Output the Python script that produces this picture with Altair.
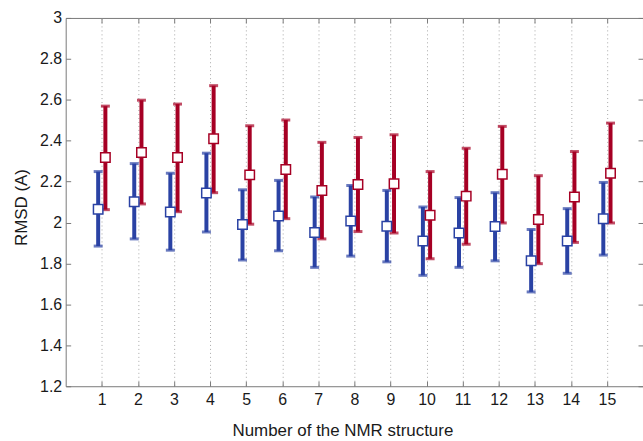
import altair as alt
import pandas as pd

# RMSD per NMR structure: mean with lower / upper error limits for two sets
structures = list(range(1, 16))

blue_mean = [2.065, 2.102, 2.052, 2.144, 1.990, 2.032, 1.951, 2.008, 1.982, 1.910, 1.949, 1.981, 1.813, 1.910, 2.019]
blue_lo = [1.885, 1.920, 1.865, 1.954, 1.817, 1.862, 1.781, 1.836, 1.808, 1.742, 1.781, 1.813, 1.661, 1.752, 1.841]
blue_hi = [2.249, 2.288, 2.241, 2.339, 2.160, 2.206, 2.125, 2.181, 2.157, 2.076, 2.122, 2.146, 1.966, 2.068, 2.196]

red_mean = [2.318, 2.342, 2.318, 2.410, 2.233, 2.259, 2.157, 2.186, 2.190, 2.036, 2.129, 2.236, 2.015, 2.125, 2.241]
red_lo = [2.063, 2.091, 2.053, 2.146, 1.992, 2.019, 1.920, 1.956, 1.949, 1.823, 1.894, 1.998, 1.799, 1.903, 1.998]
red_hi = [2.569, 2.598, 2.579, 2.669, 2.473, 2.501, 2.392, 2.416, 2.429, 2.249, 2.363, 2.470, 2.229, 2.347, 2.486]

y_ticks = [1.2, 1.4, 1.6, 1.8, 2.0, 2.2, 2.4, 2.6, 2.8, 3.0]

series_names = ["A", "B"]
series_colors = ["#2a42a4", "#a60024"]
dodge = {"A": -0.1, "B": 0.1}

rows = []
for name, means, los, his in [("A", blue_mean, blue_lo, blue_hi), ("B", red_mean, red_lo, red_hi)]:
    for s, m, lo, hi in zip(structures, means, los, his):
        rows.append({"structure": s, "series": name, "mean": m, "lo": lo, "hi": hi,
                     "xpos": s + dodge[name]})
df = pd.DataFrame(rows)

W, H = 580, 370
FONT = "Liberation Sans"

x_scale = alt.Scale(domain=[0, 16], nice=False, zero=False)
y_scale = alt.Scale(domain=[1.2, 3.0], nice=False, zero=False)
color = alt.Color("series:N", scale=alt.Scale(domain=series_names, range=series_colors), legend=None)

axis_common = dict(domain=False, offset=-5, tickSize=5, tickColor="#7a7a7a", tickWidth=1,
                   labelFont=FONT, labelFontSize=16, labelColor="#1a1a1a",
                   titleFont=FONT, titleFontSize=17, titleColor="#1a1a1a", titleFontWeight="normal")

x_bottom = alt.Axis(values=structures, orient="bottom", grid=True, gridDash=[1, 3], gridColor="#a8a8a8",
                    gridWidth=1, labelPadding=5, title="Number of the NMR structure", titlePadding=16,
                    titleX=278, **axis_common)
y_left = alt.Axis(values=y_ticks, orient="left", grid=False, format=".1~f", labelPadding=4,
                  title="RMSD (A)", titlePadding=9, titleY=190, **axis_common)
x_top = alt.Axis(values=structures, orient="top", grid=False, labels=False, title=None, **axis_common)
y_right = alt.Axis(values=y_ticks, orient="right", grid=False, labels=False, title=None, **axis_common)

base = alt.Chart(df)

bars = base.mark_rule(strokeWidth=4, strokeCap="butt").encode(
    x=alt.X("xpos:Q", scale=x_scale, axis=x_bottom),
    y=alt.Y("lo:Q", scale=y_scale, axis=y_left),
    y2="hi:Q",
    color=color,
)

caps_lo = base.mark_tick(orient="horizontal", size=9, thickness=3).encode(
    x=alt.X("xpos:Q", scale=x_scale, axis=x_top),
    y=alt.Y("lo:Q", scale=y_scale, axis=y_right),
    color=color,
)

caps_hi = base.mark_tick(orient="horizontal", size=9, thickness=3).encode(
    x=alt.X("xpos:Q", scale=x_scale, axis=None),
    y=alt.Y("hi:Q", scale=y_scale, axis=None),
    color=color,
)

points = base.mark_point(shape="square", filled=True, fill="white", size=90, strokeWidth=1.5,
                         opacity=1).encode(
    x=alt.X("xpos:Q", scale=x_scale, axis=None),
    y=alt.Y("mean:Q", scale=y_scale, axis=None),
    stroke=alt.Stroke("series:N", scale=alt.Scale(domain=series_names, range=series_colors), legend=None),
)

chart = (
    alt.layer(bars, caps_lo, caps_hi, points)
    .resolve_axis(x="independent", y="independent")
    .properties(
        width=W,
        height=H,
        autosize=alt.AutoSizeParams(type="none"),
        padding={"left": 66, "top": 17, "right": 0, "bottom": 54},
        background="white",
    )
    .configure_view(stroke="#7a7a7a", strokeWidth=1)
)

chart.save("out.html", embed_options={"renderer": "svg", "actions": False})
